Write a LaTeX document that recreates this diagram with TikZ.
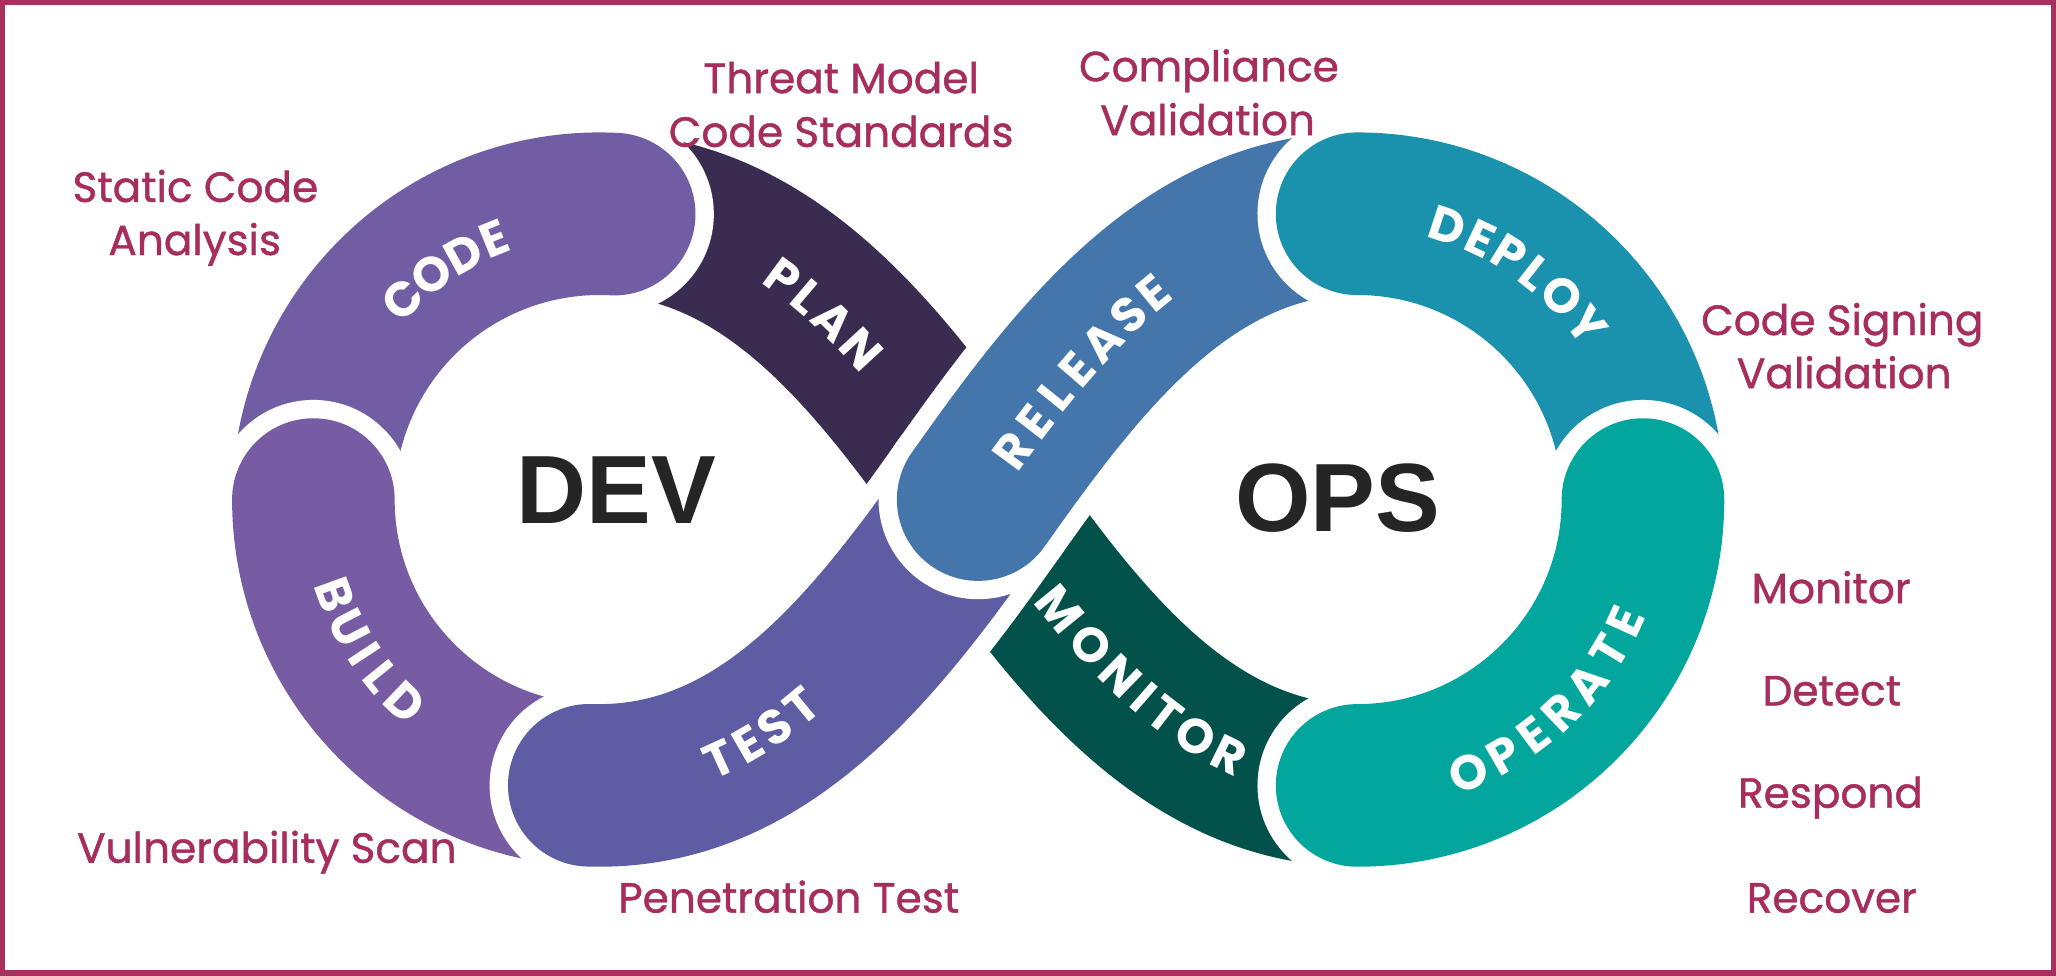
\documentclass[tikz,border=0pt]{standalone}
\usepackage{fontspec}
\newfontfamily\labfont{Poppins}[FakeBold=1.0]
\newfontfamily\segfont{Poppins}
\newfontfamily\bigfont{Liberation Sans}
\definecolor{cCode}{HTML}{715DA3}
\definecolor{cBuild}{HTML}{785CA3}
\definecolor{cTest}{HTML}{5E5CA3}
\definecolor{cPlan}{HTML}{3A2C50}
\definecolor{cRelease}{HTML}{4476AB}
\definecolor{cDeploy}{HTML}{1A91AD}
\definecolor{cOperate}{HTML}{02A69C}
\definecolor{cMonitor}{HTML}{02524B}
\definecolor{cMag}{HTML}{A62D5C}
\definecolor{cFrame}{HTML}{A8305E}
\definecolor{cDark}{HTML}{252525}
\newcommand\segm[2]{\draw[gapband] #2; \draw[band,draw=#1] #2;}
\begin{document}
\begin{tikzpicture}[x=1pt,y=1pt,
  band/.style={line width=124pt, line cap=round},
  gapband/.style={line width=152pt, line cap=round, draw=white},
  seglab/.style={text=white, font=\segfont\bfseries\fontsize{37}{37}\selectfont,
    inner sep=0pt, text height=25.8pt, text depth=0pt, anchor=center},
  mlab/.style={text=cMag, font=\labfont\fontsize{32.2}{32.2}\selectfont, anchor=base, inner sep=0pt},
  big/.style={text=cDark, font=\bigfont\bfseries\fontsize{74}{74}\selectfont, anchor=base, inner sep=0pt}]
\useasboundingbox (0,0) rectangle (1568,744);
\fill[white] (0,0) rectangle (1568,744);
% ---- bands (order matters) ----
\segm{cPlan}{(457,581) .. controls (587,581) and (671,469) .. (746,363)}
\segm{cMonitor}{(746,363) .. controls (821,257) and (905,145) .. (1035,145)}
\segm{cCode}{(468.4,580.7) arc[start angle=87, end angle=180, radius=218]}
\segm{cBuild}{(239,363) arc[start angle=180, end angle=268, radius=218]}
\segm{cTest}{(449.4,145.1) -- (457,145) .. controls (587,145) and (671,257) .. (746,363)}
\segm{cRelease}{(746,363) .. controls (821,469) and (905,581) .. (1035,581)}
\segm{cDeploy}{(1035,581) arc[start angle=90, end angle=0, radius=218]}
\segm{cOperate}{(1253,363) arc[start angle=0, end angle=-90, radius=218]}
% ---- band labels ----
\foreach \ch/\a [count=\i] in {C/134.4, O/126.7, D/118.9, E/112}
  \node[seglab, rotate=\a-90] (code-\i) at ([shift={(\a:214)}]457,363) {\ch};
\foreach \ch/\a [count=\i] in {B/199.8, U/207.2, I/213.4, L/219.1, D/226.3}
  \node[seglab, rotate=\a+90] (build-\i) at ([shift={(\a:214.5)}]457,363) {\ch};
\foreach \ch/\a [count=\i] in {D/71.7, E/64.7, P/58.2, L/51.8, O/44.9, Y/37.3}
  \node[seglab, rotate=\a-90] (deploy-\i) at ([shift={(\a:220)}]1035,363) {\ch};
\foreach \ch/\a [count=\i] in {O/-67.7, P/-60, E/-53.1, R/-46.2, A/-38.6, T/-31.1, E/-24.5}
  \node[seglab, rotate=\a+90] (operate-\i) at ([shift={(\a:225)}]1035,363) {\ch};
\path (457,581) .. controls (587,581) and (671,469) .. (746,363)
  node[seglab, sloped, pos=0.412] (plan-1) {P}
  node[seglab, sloped, pos=0.478] (plan-2) {L}
  node[seglab, sloped, pos=0.548] (plan-3) {A}
  node[seglab, sloped, pos=0.630] (plan-4) {N};
\path (457,145) .. controls (587,145) and (671,257) .. (746,363)
  node[seglab, sloped, pos=0.257] (test-1) {T}
  node[seglab, sloped, pos=0.325] (test-2) {E}
  node[seglab, sloped, pos=0.393] (test-3) {S}
  node[seglab, sloped, pos=0.463] (test-4) {T};
\path (746,363) .. controls (821,469) and (905,581) .. (1035,581)
  node[seglab, sloped, pos=0.118] (rel-1) {R}
  node[seglab, sloped, pos=0.188] (rel-2) {E}
  node[seglab, sloped, pos=0.253] (rel-3) {L}
  node[seglab, sloped, pos=0.317] (rel-4) {E}
  node[seglab, sloped, pos=0.392] (rel-5) {A}
  node[seglab, sloped, pos=0.468] (rel-6) {S}
  node[seglab, sloped, pos=0.537] (rel-7) {E};
\path (746,363) .. controls (821,257) and (905,145) .. (1035,145)
  node[seglab, sloped, pos=0.266] (mon-1) {M}
  node[seglab, sloped, pos=0.359] (mon-2) {O}
  node[seglab, sloped, pos=0.445] (mon-3) {N}
  node[seglab, sloped, pos=0.509] (mon-4) {I}
  node[seglab, sloped, pos=0.566] (mon-5) {T}
  node[seglab, sloped, pos=0.643] (mon-6) {O}
  node[seglab, sloped, pos=0.724] (mon-7) {R};
% ---- centre words ----
\node[big] (dev) at (470,345) {DEV};
\node[big] (ops) at (1020,339) {OPS};
% ---- side labels ----
\node[mlab] (sca1) at (149,590) {Static Code};
\node[mlab] (sca2) at (148.5,549.5) {Analysis};
\node[mlab] (tm1) at (641.5,673) {Threat Model};
\node[mlab] (tm2) at (641.5,632) {Code Standards};
\node[mlab] (cv1) at (922,682) {Compliance};
\node[mlab] (cv2) at (921,641) {Validation};
\node[mlab] (cs1) at (1405,488.5) {Code Signing};
\node[mlab] (cs2) at (1406.5,448) {Validation};
\node[mlab] (op1) at (1396.5,284) {Monitor};
\node[mlab] (op2) at (1397,206) {Detect};
\node[mlab] (op3) at (1396,128) {Respond};
\node[mlab] (op4) at (1397,48) {Recover};
\node[mlab] (vs) at (203.5,86) {Vulnerability Scan};
\node[mlab] (pt) at (601.5,48) {Penetration Test};
% ---- frame ----
\draw[cFrame, line width=4pt] (2,2) rectangle (1566,742);
\end{tikzpicture}
\end{document}
